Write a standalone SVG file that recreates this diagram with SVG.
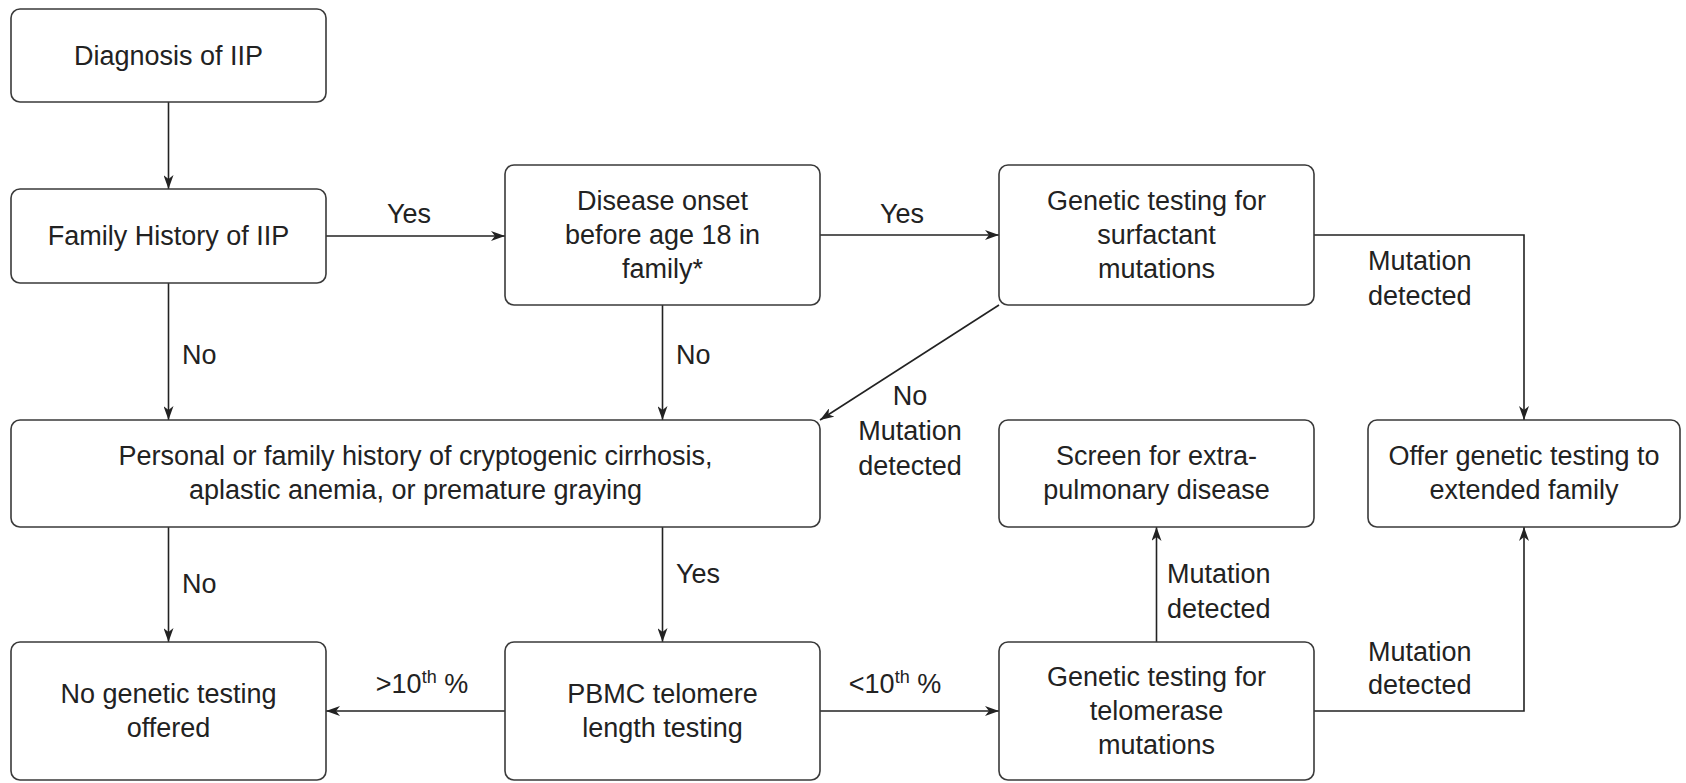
<svg xmlns="http://www.w3.org/2000/svg" width="1686" height="783" viewBox="0 0 1686 783">
  <style>
    .box { fill: #ffffff; stroke: #3a3a3a; stroke-width: 1.6; }
    .t { font-family: "Liberation Sans", Arial, Helvetica, sans-serif; font-size: 27px; fill: #222222; }
    .c { text-anchor: middle; }
    .s { text-anchor: start; }
    .edge { fill: none; stroke: #222222; stroke-width: 1.6; }
    .sup { font-size: 18px; }
  </style>
  <defs>
    <marker id="arrow" viewBox="0 0 14 10" refX="14" refY="5" markerWidth="14" markerHeight="10" markerUnits="userSpaceOnUse" orient="auto">
      <path d="M0,0 L14,5 L0,10 L4,5 z" fill="#222222"/>
    </marker>
  </defs>
  <rect width="1686" height="783" fill="#ffffff"/>

  <!-- connectors -->
  <g id="connectors">
    <path class="edge" d="M168.5,102 V189" marker-end="url(#arrow)"/>
    <path class="edge" d="M326,236 H505" marker-end="url(#arrow)"/>
    <path class="edge" d="M820,235 H999" marker-end="url(#arrow)"/>
    <path class="edge" d="M1314,235 H1524 V420" marker-end="url(#arrow)"/>
    <path class="edge" d="M999,305 L820,420" marker-end="url(#arrow)"/>
    <path class="edge" d="M168.5,283 V420" marker-end="url(#arrow)"/>
    <path class="edge" d="M662.5,305 V420" marker-end="url(#arrow)"/>
    <path class="edge" d="M168.5,527 V642" marker-end="url(#arrow)"/>
    <path class="edge" d="M662.5,527 V642" marker-end="url(#arrow)"/>
    <path class="edge" d="M505,711 H326" marker-end="url(#arrow)"/>
    <path class="edge" d="M820,711 H999" marker-end="url(#arrow)"/>
    <path class="edge" d="M1156.5,642 V527" marker-end="url(#arrow)"/>
    <path class="edge" d="M1314,711 H1524 V527" marker-end="url(#arrow)"/>

    <!-- connector labels -->
    <text class="t c" x="409" y="223">Yes</text>
    <text class="t c" x="902" y="223">Yes</text>
    <text class="t s" x="1368" y="270">Mutation</text>
    <text class="t s" x="1368" y="305">detected</text>
    <text class="t s" x="182" y="364">No</text>
    <text class="t s" x="676" y="364">No</text>
    <text class="t c" x="910" y="405">No</text>
    <text class="t c" x="910" y="440">Mutation</text>
    <text class="t c" x="910" y="475">detected</text>
    <text class="t s" x="182" y="593">No</text>
    <text class="t s" x="676" y="583">Yes</text>
    <text class="t c" x="422" y="693">&gt;10<tspan class="sup" dy="-10">th</tspan><tspan dy="10"> %</tspan></text>
    <text class="t c" x="895" y="693">&lt;10<tspan class="sup" dy="-10">th</tspan><tspan dy="10"> %</tspan></text>
    <text class="t s" x="1167" y="583">Mutation</text>
    <text class="t s" x="1167" y="618">detected</text>
    <text class="t s" x="1368" y="661">Mutation</text>
    <text class="t s" x="1368" y="694">detected</text>
  </g>

  <!-- nodes -->
  <g id="n-diagnosis">
    <rect class="box" x="11" y="9" width="315" height="93" rx="9"/>
    <text class="t c" x="168.5" y="65">Diagnosis of IIP</text>
  </g>
  <g id="n-family">
    <rect class="box" x="11" y="189" width="315" height="94" rx="9"/>
    <text class="t c" x="168.5" y="245">Family History of IIP</text>
  </g>
  <g id="n-onset">
    <rect class="box" x="505" y="165" width="315" height="140" rx="9"/>
    <text class="t c" x="662.5" y="210">Disease onset</text>
    <text class="t c" x="662.5" y="244">before age 18 in</text>
    <text class="t c" x="662.5" y="278">family*</text>
  </g>
  <g id="n-surfactant">
    <rect class="box" x="999" y="165" width="315" height="140" rx="9"/>
    <text class="t c" x="1156.5" y="210">Genetic testing for</text>
    <text class="t c" x="1156.5" y="244">surfactant</text>
    <text class="t c" x="1156.5" y="278">mutations</text>
  </g>
  <g id="n-history">
    <rect class="box" x="11" y="420" width="809" height="107" rx="9"/>
    <text class="t c" x="415.5" y="465">Personal or family history of cryptogenic cirrhosis,</text>
    <text class="t c" x="415.5" y="499">aplastic anemia, or premature graying</text>
  </g>
  <g id="n-screen">
    <rect class="box" x="999" y="420" width="315" height="107" rx="9"/>
    <text class="t c" x="1156.5" y="465">Screen for extra-</text>
    <text class="t c" x="1156.5" y="499">pulmonary disease</text>
  </g>
  <g id="n-offer">
    <rect class="box" x="1368" y="420" width="312" height="107" rx="9"/>
    <text class="t c" x="1524" y="465">Offer genetic testing to</text>
    <text class="t c" x="1524" y="499">extended family</text>
  </g>
  <g id="n-nogenetic">
    <rect class="box" x="11" y="642" width="315" height="138" rx="9"/>
    <text class="t c" x="168.5" y="703">No genetic testing</text>
    <text class="t c" x="168.5" y="737">offered</text>
  </g>
  <g id="n-pbmc">
    <rect class="box" x="505" y="642" width="315" height="138" rx="9"/>
    <text class="t c" x="662.5" y="703">PBMC telomere</text>
    <text class="t c" x="662.5" y="737">length testing</text>
  </g>
  <g id="n-telomerase">
    <rect class="box" x="999" y="642" width="315" height="138" rx="9"/>
    <text class="t c" x="1156.5" y="686">Genetic testing for</text>
    <text class="t c" x="1156.5" y="720">telomerase</text>
    <text class="t c" x="1156.5" y="754">mutations</text>
  </g>
</svg>
